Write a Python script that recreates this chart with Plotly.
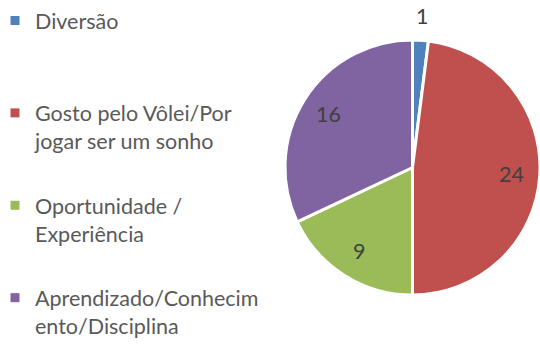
import math
import plotly.graph_objects as go

# Survey answers: reasons for playing volleyball
categories = [
    "Diversão",
    "Gosto pelo Vôlei/Por jogar ser um sonho",
    "Oportunidade / Experiência",
    "Aprendizado/Conhecimento/Disciplina",
]
legend_labels = [
    "Diversão<br> ",
    "Gosto pelo Vôlei/Por<br>jogar ser um sonho",
    "Oportunidade /<br>Experiência",
    "Aprendizado/Conhecim<br>ento/Disciplina",
]
values = [1, 24, 9, 16]
colors = ["#4F81BD", "#C0504D", "#9BBB59", "#8064A2"]

W, H = 540, 345
FONT = "Lato"
FONT_SIZE = 21.5

# pie placement in pixels (paper coordinates derived below)
pie_left, pie_right = 285.0, 540.0
pie_top, pie_bottom = 38.0, 297.0
dom_x = [pie_left / W, pie_right / W]
dom_y = [1 - pie_bottom / H, 1 - pie_top / H]
cx_px = (pie_left + pie_right) / 2
cy_px = (pie_top + pie_bottom) / 2
radius_px = min(pie_right - pie_left, pie_bottom - pie_top) / 2

fig = go.Figure()
fig.add_trace(go.Pie(
    labels=categories,
    values=values,
    sort=False,
    direction="clockwise",
    rotation=0,
    textinfo="none",
    hoverinfo="label+value+percent",
    marker=dict(colors=colors, line=dict(color="white", width=3)),
    domain=dict(x=dom_x, y=dom_y),
    showlegend=False,
))

# legend entries with small square keys
for i, (lab, col) in enumerate(zip(legend_labels, colors)):
    fig.add_trace(go.Scatter(
        x=[None], y=[None], mode="markers",
        marker=dict(symbol="square", size=9, color=col),
        name=lab, legendgroup=f"g{i}", hoverinfo="skip",
    ))

# value labels at each slice's mid-angle (small slices get an outside label)
total = sum(values)
annotations = []
cum = 0
for v in values:
    share = v / total
    theta = 2 * math.pi * (cum + v / 2) / total
    cum += v
    r = radius_px * (1.19 if share < 0.05 else 0.78)
    x_px = cx_px + r * math.sin(theta)
    y_px = cy_px - r * math.cos(theta)
    annotations.append(dict(
        x=x_px / W, y=1 - y_px / H, xref="paper", yref="paper",
        xanchor="center", yanchor="middle",
        text=str(v), showarrow=False,
        font=dict(family=FONT, size=FONT_SIZE, color="#404040"),
    ))

fig.update_layout(
    width=W, height=H,
    margin=dict(l=0, r=0, t=0, b=0, autoexpand=False),
    paper_bgcolor="white", plot_bgcolor="white",
    xaxis=dict(visible=False), yaxis=dict(visible=False),
    annotations=annotations,
    legend=dict(
        x=-5 / W, y=1, xanchor="left", yanchor="top", valign="top",
        font=dict(family=FONT, size=FONT_SIZE, color="#595959"),
        tracegroupgap=33.5, bgcolor="rgba(0,0,0,0)",
        maxheight=600,
        itemclick=False, itemdoubleclick=False,
    ),
    showlegend=True,
)

fig.write_html("out.html")
